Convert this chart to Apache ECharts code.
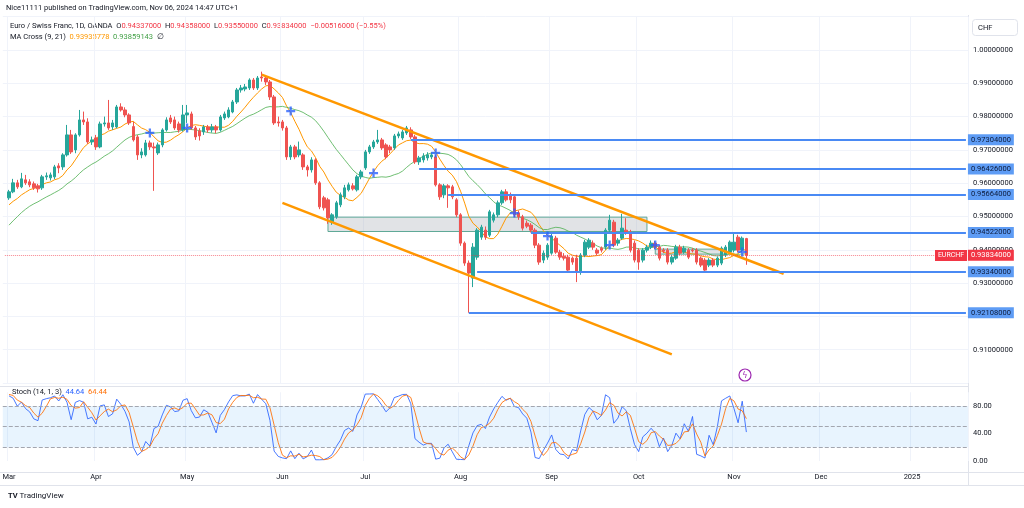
<!DOCTYPE html>
<html><head><meta charset="utf-8">
<script src="https://cdn.jsdelivr.net/npm/echarts@6/dist/echarts.min.js"></script>
<style>html,body{margin:0;padding:0;background:#fff}#c{width:1024px;height:508px}</style>
</head><body><div id="c"></div>
<script>
// ---- data (EUR/CHF daily, Mar 1 .. Nov 6 2024) ----
// closes of the 20 sessions before Mar 1 (only needed to seed MA / Stoch)
const priorCloses = [0.9325,0.9335,0.9355,0.9385,0.9405,0.9435,0.9455,0.9465,0.9475,0.9495,0.9505,0.9505,0.9505,0.9515,0.9515,0.9530,0.9525,0.9550,0.9545,0.9556];
const opens = [
0.9556,0.9574,0.9601,0.9589,0.9610,0.9604,0.9598,0.9592,0.9586,0.9619,0.9616,0.9619,0.9652,0.9649,0.9685,0.9745,0.9700,0.9745,0.9790,0.9784,0.9724,
0.9736,0.9709,0.9778,0.9781,0.9769,0.9769,0.9829,0.9820,0.9805,0.9770,0.9739,0.9685,0.9685,0.9721,0.9709,0.9691,0.9715,0.9760,0.9796,0.9790,0.9778,0.9760,
0.9805,0.9808,0.9766,0.9757,0.9754,0.9769,0.9760,0.9769,0.9760,0.9796,0.9799,0.9814,0.9844,0.9880,0.9883,0.9886,0.9910,0.9886,0.9919,0.9916,0.9904,0.9859,0.9784,
0.9784,0.9766,0.9679,0.9709,0.9685,0.9685,0.9649,0.9640,0.9670,0.9601,0.9556,0.9550,0.9484,0.9499,0.9535,0.9559,0.9580,0.9592,0.9580,0.9619,
0.9646,0.9694,0.9709,0.9724,0.9730,0.9715,0.9709,0.9706,0.9742,0.9736,0.9751,0.9760,0.9739,0.9664,0.9670,0.9676,0.9679,0.9679,0.9595,0.9565,0.9592,0.9589,0.9550,
0.9505,0.9420,0.9360,0.9315,0.9378,0.9438,0.9459,0.9444,0.9489,0.9505,0.9541,0.9574,0.9565,0.9559,0.9511,0.9499,0.9480,0.9474,0.9459,0.9414,0.9369,0.9378,
0.9390,0.9435,0.9393,0.9381,0.9378,0.9375,0.9375,0.9333,0.9384,0.9408,0.9420,0.9399,0.9405,0.9408,0.9459,0.9483,0.9420,0.9435,0.9459,0.9453,0.9420,
0.9399,0.9369,0.9399,0.9408,0.9420,0.9408,0.9399,0.9399,0.9363,0.9375,0.9408,0.9393,0.9399,0.9399,0.9399,0.9375,0.9369,0.9354,0.9369,0.9354,0.9360,0.9384,0.9393,
0.9399,0.9438,0.9399,0.94337];
const highs = [
0.9580,0.9613,0.9610,0.9631,0.9625,0.9612,0.9605,0.9598,0.9625,0.9632,0.9632,0.9655,0.9660,0.9690,0.9775,0.9760,0.9750,0.9820,0.9815,0.9795,0.9740,
0.9745,0.9785,0.9800,0.9850,0.9790,0.9835,0.9840,0.9828,0.9810,0.9785,0.9745,0.9705,0.9730,0.9728,0.9722,0.9722,0.9765,0.9798,0.9805,0.9800,0.9785,0.9835,
0.9835,0.9815,0.9772,0.9765,0.9775,0.9775,0.9778,0.9775,0.9805,0.9815,0.9828,0.9850,0.9886,0.9895,0.9898,0.9915,0.9916,0.9922,0.9935,0.9925,0.9910,0.9865,0.9800,
0.9790,0.9772,0.9715,0.9715,0.9725,0.9690,0.9655,0.9678,0.9675,0.9606,0.9562,0.9556,0.9510,0.9547,0.9572,0.9595,0.9602,0.9600,0.9625,0.9640,
0.9700,0.9715,0.9730,0.9760,0.9736,0.9720,0.9715,0.9748,0.9755,0.9760,0.9772,0.9768,0.9745,0.9682,0.9690,0.9693,0.9692,0.9685,0.9600,0.9598,0.9597,0.9595,0.9555,
0.9510,0.9425,0.9368,0.9420,0.9465,0.9475,0.9470,0.9520,0.9512,0.9548,0.9580,0.9582,0.9572,0.9565,0.9518,0.9505,0.9488,0.9480,0.9465,0.9420,0.9398,0.9420,
0.9448,0.9442,0.9400,0.9390,0.9385,0.9380,0.9385,0.9390,0.9430,0.9435,0.9428,0.9405,0.9410,0.9465,0.9505,0.9490,0.9435,0.9508,0.9495,0.9460,0.9428,
0.9405,0.9405,0.9415,0.9428,0.9426,0.9414,0.9405,0.9405,0.9385,0.9415,0.9415,0.9412,0.9405,0.9405,0.9405,0.9380,0.9375,0.9375,0.9375,0.9380,0.9410,0.9414,0.9428,
0.9450,0.9445,0.9440,0.94358];
const lows = [
0.9550,0.9570,0.9583,0.9585,0.9595,0.9588,0.9580,0.9572,0.9580,0.9610,0.9608,0.9612,0.9630,0.9640,0.9680,0.9688,0.9690,0.9740,0.9775,0.9718,0.9715,
0.9700,0.9705,0.9770,0.9760,0.9760,0.9765,0.9815,0.9798,0.9775,0.9725,0.9670,0.9675,0.9680,0.9700,0.9577,0.9685,0.9708,0.9755,0.9778,0.9760,0.9752,0.9755,
0.9781,0.9760,0.9730,0.9728,0.9745,0.9752,0.9752,0.9750,0.9755,0.9790,0.9795,0.9810,0.9838,0.9872,0.9876,0.9880,0.9880,0.9880,0.9905,0.9895,0.9850,0.9775,0.9770,
0.9758,0.9670,0.9670,0.9672,0.9678,0.9640,0.9620,0.9632,0.9595,0.9522,0.9518,0.9478,0.9475,0.9493,0.9528,0.9552,0.9575,0.9578,0.9575,0.9612,
0.9640,0.9688,0.9703,0.9718,0.9700,0.9672,0.9690,0.9700,0.9735,0.9730,0.9745,0.9733,0.9658,0.9655,0.9662,0.9668,0.9672,0.9590,0.9550,0.9555,0.9526,0.9552,0.9498,
0.9412,0.9352,0.9211,0.9288,0.9370,0.9430,0.9430,0.9438,0.9482,0.9498,0.9535,0.9545,0.9540,0.9498,0.9490,0.9458,0.9465,0.9452,0.9405,0.9355,0.9360,0.9370,
0.9385,0.9388,0.9370,0.9368,0.9332,0.9355,0.9303,0.9325,0.9378,0.9402,0.9400,0.9384,0.9392,0.9400,0.9452,0.9408,0.9412,0.9430,0.9445,0.9392,0.9362,
0.9340,0.9362,0.9392,0.9402,0.9402,0.9368,0.9390,0.9356,0.9356,0.9370,0.9384,0.9388,0.9372,0.9392,0.9356,0.9348,0.9335,0.9348,0.9348,0.9348,0.9354,0.9378,0.9388,
0.9392,0.9392,0.9392,0.93550];
const closes = [
0.9574,0.9601,0.9589,0.9613,0.9601,0.9595,0.9586,0.9583,0.9619,0.9622,0.9625,0.9649,0.9646,0.9685,0.9745,0.9694,0.9745,0.9790,0.9784,0.9724,0.9730,
0.9709,0.9778,0.9781,0.9766,0.9781,0.9829,0.9820,0.9805,0.9781,0.9730,0.9685,0.9694,0.9721,0.9709,0.9706,0.9715,0.9760,0.9790,0.9784,0.9766,0.9760,0.9805,
0.9811,0.9766,0.9739,0.9742,0.9769,0.9760,0.9769,0.9760,0.9799,0.9808,0.9820,0.9844,0.9880,0.9886,0.9889,0.9910,0.9886,0.9916,0.9916,0.9904,0.9859,0.9781,0.9781,
0.9766,0.9679,0.9709,0.9679,0.9700,0.9649,0.9640,0.9670,0.9601,0.9529,0.9526,0.9496,0.9505,0.9541,0.9565,0.9586,0.9595,0.9583,0.9619,0.9634,
0.9694,0.9709,0.9724,0.9730,0.9706,0.9679,0.9700,0.9742,0.9748,0.9754,0.9766,0.9739,0.9664,0.9676,0.9682,0.9685,0.9685,0.9595,0.9559,0.9592,0.9586,0.9559,0.9505,
0.9420,0.9360,0.9330,0.9408,0.9459,0.9468,0.9438,0.9514,0.9505,0.9541,0.9574,0.9550,0.9550,0.9505,0.9499,0.9465,0.9471,0.9459,0.9414,0.9363,0.9390,0.9414,
0.9441,0.9393,0.9378,0.9375,0.9339,0.9363,0.9333,0.9384,0.9423,0.9429,0.9408,0.9390,0.9399,0.9459,0.9489,0.9414,0.9429,0.9465,0.9453,0.9399,0.9369,
0.9363,0.9399,0.9408,0.9420,0.9408,0.9375,0.9396,0.9363,0.9378,0.9408,0.9390,0.9405,0.9378,0.9397,0.9363,0.9354,0.9339,0.9369,0.9354,0.9375,0.9405,0.9408,0.9423,
0.9423,0.9399,0.9435,0.93834];
// horizontal rays (price, first bar index counted from Mar 1 = 0)
const rayPrices   = [0.97304,0.96426,0.95664,0.94522,0.93340,0.92108];
const rayStartBar = [97,99,106,126,113,111];
// grey zones
const zoneTop = [0.9498,0.9402], zoneBottom = [0.9455,0.9387];
const zoneStartBar = [77,156], zoneEndBar = [154,173];
// channel lines
const upperTrendBars = [61,187], upperTrendPrices = [0.9926,0.9328];
const lowerTrendBars = [66,160], lowerTrendPrices = [0.9541,0.9086];
// MA-cross markers
const crossBars   = [34,43,68,88,103,122,130,145,156,177];
const crossPrices = [0.97508,0.97658,0.98168,0.96306,0.96907,0.95105,0.94414,0.94144,0.94144,0.93934];
const lastPrice = 0.93834;
const monthNames = ['Jan','Feb','Mar','Apr','May','Jun','Jul','Aug','Sep','Oct','Nov','Dec'];

// ---- category axis: weekday sessions from Feb 29 2024 (one empty slot before Mar 1) ----
const dates = [];
{ const d = new Date(Date.UTC(2024,1,29));
  while (dates.length < 233) { const w = d.getUTCDay(); if (w !== 0 && w !== 6) dates.push(d.toISOString().slice(0,10)); d.setUTCDate(d.getUTCDate()+1); } }
const cat = b => dates[b+1];
const isMonthStart = k => k >= 1 && dates[k].slice(5,7) !== dates[k-1].slice(5,7);

// ---- indicators from the candles ----
const allC = priorCloses.concat(closes), allH = priorCloses.concat(highs), allL = priorCloses.concat(lows);
const P = priorCloses.length;
function sma(n){ const out=['-']; for(let i=0;i<closes.length;i++){ const j=i+P; let s=0; for(let t=j-n+1;t<=j;t++) s+=allC[t]; out.push(+(s/n).toFixed(6)); } return out; }
const kAll = allC.map((c,j)=>{ if(j<13) return null; let hh=-1,ll=9; for(let t=j-13;t<=j;t++){hh=Math.max(hh,allH[t]); ll=Math.min(ll,allL[t]);} return hh>ll?100*(c-ll)/(hh-ll):50; });
const stochK=['-'], stochD=['-'];
for(let i=0;i<closes.length;i++){ const j=i+P; stochK.push(+kAll[j].toFixed(2)); stochD.push(+((kAll[j]+kAll[j-1]+kAll[j-2])/3).toFixed(2)); }
const candleData = [['-','-','-','-']].concat(closes.map((c,i)=>[opens[i],c,lows[i],highs[i]]));

const FONT = 'Roboto';
const TXT = '#131722';
const last = dates[dates.length-1];
const rayLines = rayPrices.map((p,j)=>[
  {coord:[cat(rayStartBar[j]),p], lineStyle:{color:'#4a8af4',width:2,type:'solid'},
   label:{show:true,position:'end',distance:2,formatter:p.toFixed(8),backgroundColor:'#5e9cf5',color:'#0c1a3a',padding:[2,3,1,3],fontSize:7.5,fontFamily:FONT}},
  {coord:[last,p]}]);
rayLines.push([
  {coord:[dates[0],lastPrice], lineStyle:{color:'rgba(242,54,69,0.6)',width:1,type:'dotted'},
   label:{show:true,position:'end',distance:2,formatter:lastPrice.toFixed(8),backgroundColor:'#f23645',color:'#ffffff',padding:[2,3,1,3],fontSize:7.5,fontFamily:FONT,opacity:1}},
  {coord:[last,lastPrice]}]);

const option = {
  animation:false,
  backgroundColor:'#ffffff',
  textStyle:{fontFamily:FONT},
  grid:[
    {left:2.79,right:56,top:16.7,height:366.3,outerBoundsMode:'none',containLabel:false},
    {left:2.79,right:56,top:392.25,height:68.75,outerBoundsMode:'none',containLabel:false}
  ],
  xAxis:[
    {type:'category',gridIndex:0,data:dates,boundaryGap:true,axisLine:{show:false},axisTick:{show:false},axisLabel:{show:false},
     splitLine:{show:true,interval:(k)=>isMonthStart(k),lineStyle:{color:'#f0f3fa',width:1}}},
    {type:'category',gridIndex:1,data:dates,boundaryGap:true,axisLine:{show:false},axisTick:{show:false},
     axisLabel:{show:true,interval:(k)=>isMonthStart(k),margin:12,fontSize:7.5,color:TXT,fontFamily:FONT,
       formatter:v=>{const m=+v.slice(5,7); return m===1?v.slice(0,4):monthNames[m-1];}},
     splitLine:{show:true,interval:(k)=>isMonthStart(k),lineStyle:{color:'#f0f3fa',width:1}}}
  ],
  yAxis:[
    {type:'value',gridIndex:0,position:'right',min:0.90,max:1.01,interval:0.01,axisLine:{show:false},axisTick:{show:false},
     axisLabel:{margin:5,fontSize:7.5,color:TXT,fontFamily:FONT,formatter:v=>(v<0.905||v>1.005)?'':v.toFixed(8)},
     splitLine:{show:true,lineStyle:{color:'#f0f3fa',width:1}}},
    {type:'value',gridIndex:1,position:'right',min:0,max:100,interval:40,axisLine:{show:false},axisTick:{show:false},
     axisLabel:{margin:5,fontSize:7.5,color:TXT,fontFamily:FONT,formatter:v=>v>90?'':v.toFixed(2)},
     splitLine:{show:false}}
  ],
  series:[
    {type:'candlestick',xAxisIndex:0,yAxisIndex:0,data:candleData,barWidth:3,
     itemStyle:{color:'#26a69a',color0:'#ef5350',borderColor:'#26a69a',borderColor0:'#ef5350',borderWidth:1},
     markArea:{silent:true,itemStyle:{color:'rgba(170,174,184,0.35)',borderColor:'#5fa896',borderWidth:1},
       data:zoneTop.map((t,j)=>[{coord:[cat(zoneStartBar[j]),t]},{coord:[cat(zoneEndBar[j]),zoneBottom[j]]}])},
     markLine:{silent:true,symbol:['none','none'],data:rayLines},
     z:3},
    {type:'line',name:'MA9',xAxisIndex:0,yAxisIndex:0,data:sma(9),symbol:'none',lineStyle:{color:'#ff9800',width:1},z:2},
    {type:'line',name:'MA21',xAxisIndex:0,yAxisIndex:0,data:sma(21),symbol:'none',lineStyle:{color:'#4caf50',width:1,opacity:0.8},z:2},
    {type:'line',name:'upper',xAxisIndex:0,yAxisIndex:0,data:upperTrendBars.map((b,j)=>[cat(b),upperTrendPrices[j]]),symbol:'none',lineStyle:{color:'#ff9800',width:2.5},z:4},
    {type:'line',name:'lower',xAxisIndex:0,yAxisIndex:0,data:lowerTrendBars.map((b,j)=>[cat(b),lowerTrendPrices[j]]),symbol:'none',lineStyle:{color:'#ff9800',width:2.5},z:4},
    {type:'scatter',xAxisIndex:0,yAxisIndex:0,data:crossBars.map((b,j)=>[cat(b),crossPrices[j]]),
     symbol:'path://M3,0H5V3H8V5H5V8H3V5H0V3H3Z',symbolSize:9,itemStyle:{color:'#2962ff'},z:6},
    {type:'line',name:'%K',xAxisIndex:1,yAxisIndex:1,data:stochK,symbol:'none',lineStyle:{color:'#2962ff',width:1,opacity:0.85},z:3,
     markArea:{silent:true,itemStyle:{color:'rgba(33,150,243,0.1)'},data:[[{yAxis:20},{yAxis:80}]]},
     markLine:{silent:true,symbol:['none','none'],label:{show:false},lineStyle:{color:'#a3a6af',type:'dashed',width:1},
       data:[{yAxis:80},{yAxis:50},{yAxis:20}]}},
    {type:'line',name:'%D',xAxisIndex:1,yAxisIndex:1,data:stochD,symbol:'none',lineStyle:{color:'#ff6d00',width:1,opacity:0.85},z:3}
  ],
  graphic:[
    {type:'line',shape:{x1:0,y1:386.5,x2:968,y2:386.5},style:{stroke:'#e0e3eb',lineWidth:1},silent:true},
    {type:'line',shape:{x1:0,y1:472.5,x2:1024,y2:472.5},style:{stroke:'#e0e3eb',lineWidth:1},silent:true},
    {type:'line',shape:{x1:0,y1:485.5,x2:1024,y2:485.5},style:{stroke:'#e0e3eb',lineWidth:1},silent:true},
    {type:'line',shape:{x1:968.5,y1:15,x2:968.5,y2:486},style:{stroke:'#e0e3eb',lineWidth:1},silent:true},
    {type:'text',style:{x:6,y:8,text:'Nice11111 published on TradingView.com, Nov 06, 2024 14:47 UTC+1',fontSize:7.5,fontFamily:FONT,fill:TXT,verticalAlign:'middle'}},
    {type:'text',style:{x:10,y:26,verticalAlign:'middle',fontSize:7.5,fontFamily:FONT,
      text:'{d|Euro / Swiss Franc, 1D, OANDA  O}{r|0.94337000}{d|  H}{r|0.94358000}{d|  L}{r|0.93550000}{d|  C}{r|0.93834000}{r|  \u22120.00516000 (\u22120.55%)}',
      rich:{d:{fill:TXT,fontSize:7.5,fontFamily:FONT},r:{fill:'#f23645',fontSize:7.5,fontFamily:FONT}}}},
    {type:'text',style:{x:10,y:37,verticalAlign:'middle',fontSize:7.5,fontFamily:FONT,
      text:'{d|MA Cross (9, 21)  }{o|0.93935778}{d|  }{g|0.93859143}{d|  \u2205}',
      rich:{d:{fill:TXT,fontSize:7.5,fontFamily:FONT},o:{fill:'#ff9800',fontSize:7.5,fontFamily:FONT},g:{fill:'#43a047',fontSize:7.5,fontFamily:FONT}}}},
    {type:'text',style:{x:12,y:392,verticalAlign:'middle',fontSize:7.5,fontFamily:FONT,
      text:'{d|Stoch (14, 1, 3)  }{b|44.64}{d|  }{o|64.44}',
      rich:{d:{fill:TXT,fontSize:7.5,fontFamily:FONT},b:{fill:'#2962ff',fontSize:7.5,fontFamily:FONT},o:{fill:'#ff6d00',fontSize:7.5,fontFamily:FONT}}}},
    {type:'rect',shape:{x:972.5,y:19.5,width:45,height:16,r:3},style:{fill:'#ffffff',stroke:'#e0e3eb',lineWidth:1}},
    {type:'text',style:{x:978,y:28,text:'CHF',fontSize:7.5,fontFamily:FONT,fill:TXT,verticalAlign:'middle'}},
    {type:'rect',shape:{x:935,y:250,width:32,height:11},style:{fill:'#f23645'},z:10},
    {type:'text',style:{x:951,y:255.5,text:'EURCHF',fontSize:7,fontFamily:FONT,fill:'#ffffff',align:'center',verticalAlign:'middle'},z:11},
    {type:'circle',shape:{cx:745,cy:375,r:6},style:{fill:'#ffffff',stroke:'#9c27b0',lineWidth:1.2}},
    {type:'text',style:{x:745,y:375.5,text:'\u03DF',fontSize:8,fontFamily:'DejaVu Sans',fill:'#9c27b0',align:'center',verticalAlign:'middle'}},
    {type:'text',style:{x:8,y:496,text:'{l|TV}{t| TradingView}',verticalAlign:'middle',
      rich:{l:{fill:TXT,fontSize:7.5,fontWeight:'bold',fontFamily:FONT},t:{fill:TXT,fontSize:8,fontFamily:FONT}}}}
  ]
};
const chart = echarts.init(document.getElementById('c'),null,{renderer:'canvas'});
chart.setOption(option);
</script></body></html>
